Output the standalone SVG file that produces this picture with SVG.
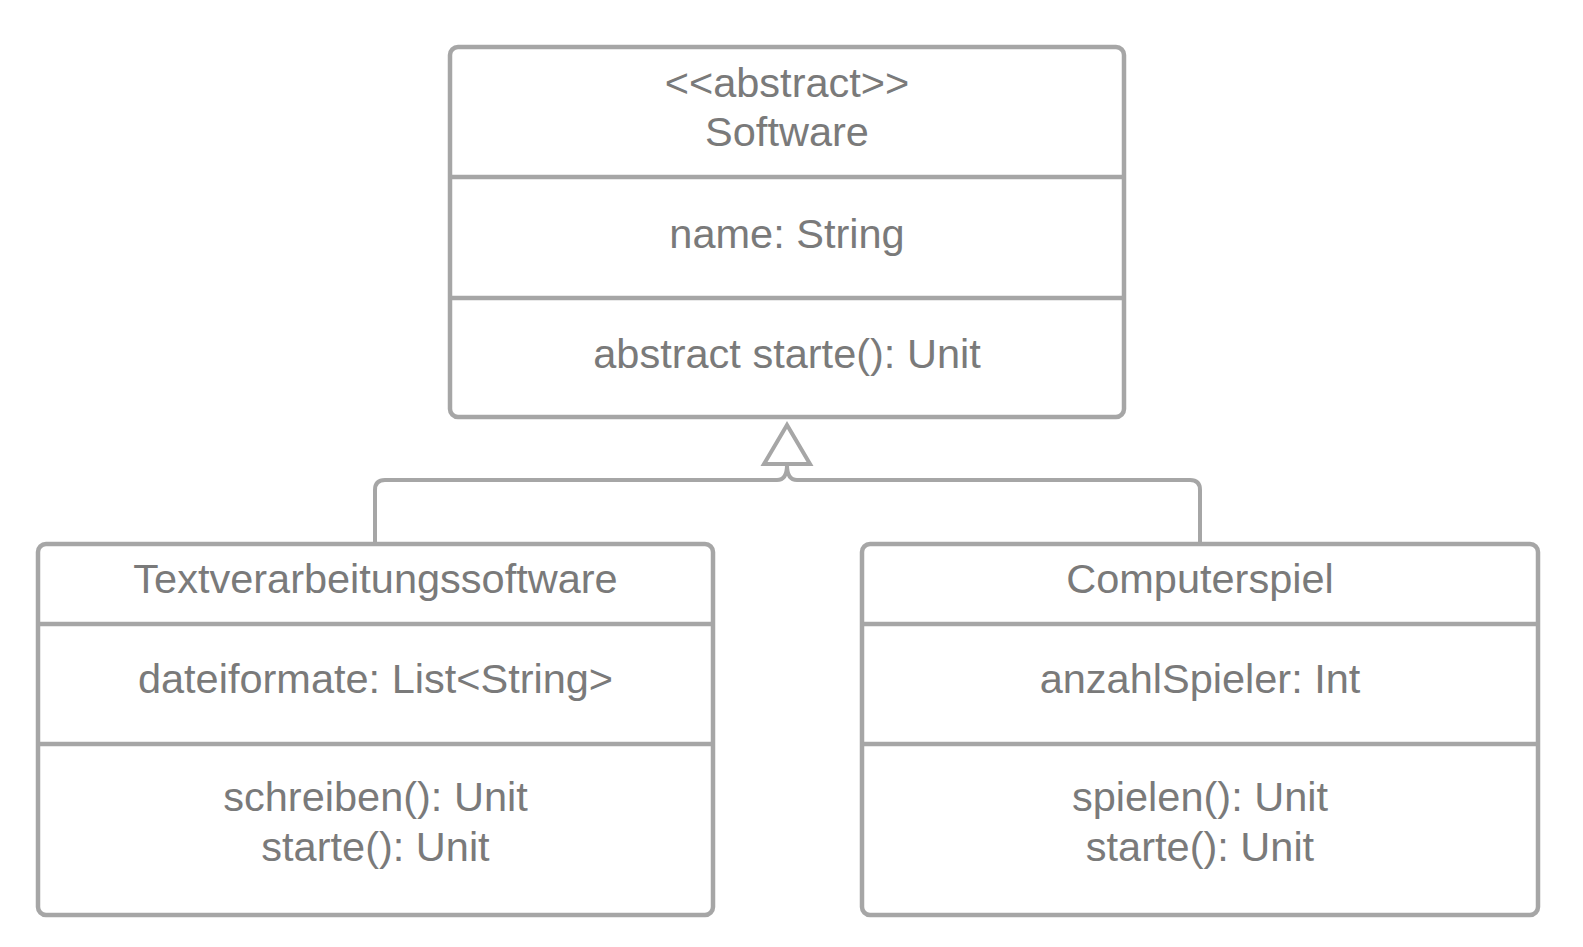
<svg xmlns="http://www.w3.org/2000/svg" width="1583" height="947" viewBox="0 0 1583 947">
<style>
.box{fill:#ffffff;stroke:#a6a6a6;stroke-width:4.5}
.div{stroke:#a6a6a6;stroke-width:4.5;fill:none}
.conn{stroke:#a6a6a6;stroke-width:4;fill:none}
.tri{fill:#ffffff;stroke:#a6a6a6;stroke-width:4;stroke-linejoin:miter}
text{font-family:"Liberation Sans",Arial,sans-serif;font-size:41.5px;fill:#7a7a7a;text-anchor:middle}
</style>
<rect width="1583" height="947" fill="#ffffff"/>
<g id="connectors">
<path class="conn" d="M787,465 Q787,480 777,480 L385,480 Q375,480 375,490 L375,542"/>
<path class="conn" d="M787,465 Q787,480 797,480 L1190,480 Q1200,480 1200,490 L1200,542"/>
<polygon class="tri" points="787,425 764,464 810,464"/>
</g>
<g id="software">
<rect class="box" x="450" y="47" width="674" height="370" rx="8"/>
<line class="div" x1="450" y1="177" x2="1124" y2="177"/>
<line class="div" x1="450" y1="298" x2="1124" y2="298"/>
<text x="787" y="97">&lt;&lt;abstract&gt;&gt;</text>
<text x="787" y="146">Software</text>
<text x="787" y="248">name: String</text>
<text x="787" y="368">abstract starte(): Unit</text>
</g>
<g id="textverarbeitungssoftware">
<rect class="box" x="38" y="544" width="675" height="371" rx="8"/>
<line class="div" x1="38" y1="624" x2="713" y2="624"/>
<line class="div" x1="38" y1="744" x2="713" y2="744"/>
<text x="375.5" y="593">Textverarbeitungssoftware</text>
<text x="375.5" y="693">dateiformate: List&lt;String&gt;</text>
<text x="375.5" y="811">schreiben(): Unit</text>
<text x="375.5" y="861">starte(): Unit</text>
</g>
<g id="computerspiel">
<rect class="box" x="862" y="544" width="676" height="371" rx="8"/>
<line class="div" x1="862" y1="624" x2="1538" y2="624"/>
<line class="div" x1="862" y1="744" x2="1538" y2="744"/>
<text x="1200" y="593">Computerspiel</text>
<text x="1200" y="693">anzahlSpieler: Int</text>
<text x="1200" y="811">spielen(): Unit</text>
<text x="1200" y="861">starte(): Unit</text>
</g>
</svg>
